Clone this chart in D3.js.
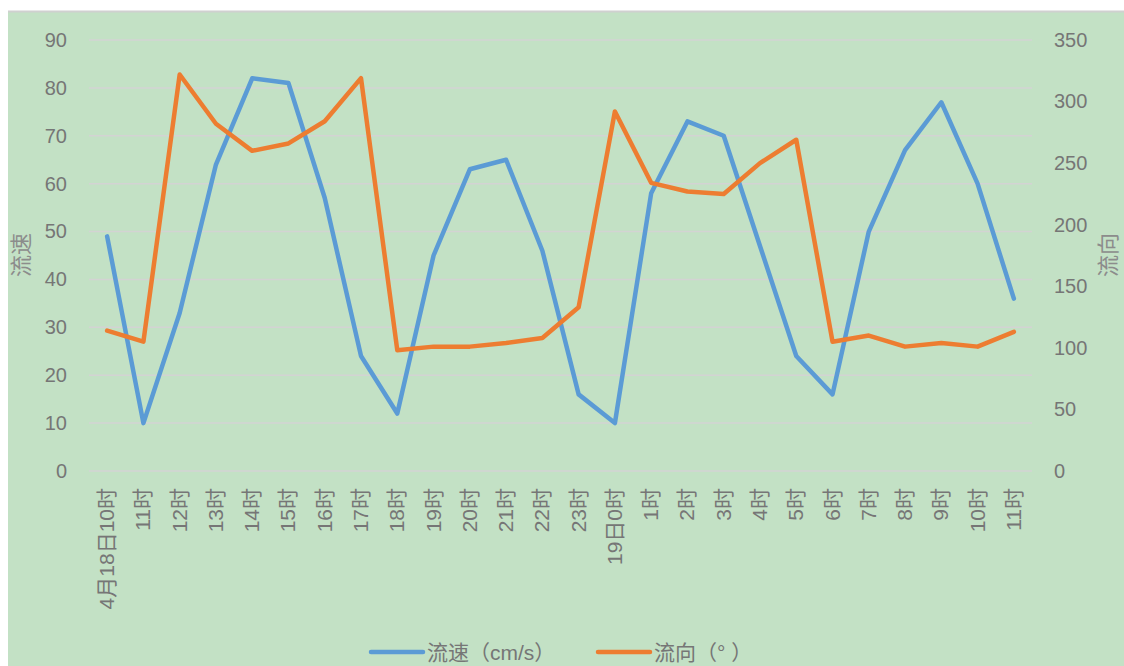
<!DOCTYPE html>
<html>
<head>
<meta charset="utf-8">
<script src="https://cdn.jsdelivr.net/npm/d3@7/dist/d3.min.js"></script>
<style>
  body { margin: 0; background: #fff; }
  text { font-family: "Liberation Sans", "Noto Sans CJK SC", sans-serif; fill: #767676; }
</style>
</head>
<body>
<svg id="chart" width="1124" height="666"></svg>
<script>
// categories (hours from 4/18 10:00 to 4/19 11:00)
var hours = ["4月18日10时", "11时", "12时", "13时", "14时", "15时", "16时", "17时", "18时",
    "19时", "20时", "21时", "22时", "23时", "19日0时", "1时", "2时", "3时", "4时", "5时",
    "6时", "7时", "8时", "9时", "10时", "11时"];

// 流速 cm/s (left axis)
var speed = [49, 10, 33, 64, 82, 81, 57, 24, 12, 45, 63, 65, 46, 16, 10, 58, 73, 70, 47, 24,
    16, 50, 67, 77, 60, 36];

// 流向 degrees (right axis)
var direction = [114, 105, 322, 282, 260, 266, 284, 319, 98, 101, 101, 104, 108, 133, 292, 234,
    227, 225, 250, 269, 105, 110, 101, 104, 101, 113];

var leftTicks = [0, 10, 20, 30, 40, 50, 60, 70, 80, 90];
var rightTicks = [0, 50, 100, 150, 200, 250, 300, 350];

var svg = d3.select("#chart"),
    margin = {top: 40, right: 92, bottom: 195, left: 89},
    width = +svg.attr("width") - margin.left - margin.right,
    height = +svg.attr("height") - margin.top - margin.bottom;

// background panel
svg.append("rect")
    .attr("x", 8).attr("y", 11)
    .attr("width", 1124 - 8).attr("height", 666 - 11)
    .attr("fill", "#c3e1c5");
svg.append("line")
    .attr("x1", 8).attr("x2", 1124).attr("y1", 11.5).attr("y2", 11.5)
    .attr("stroke", "#d0d0d0").attr("stroke-width", 2);

var x = d3.scaleBand().domain(hours.map(function (d, i) { return i; }))
    .range([0, width]);
var y = d3.scaleLinear().domain([0, 90]).range([height, 0]);
var y2 = d3.scaleLinear().domain([0, 350]).range([height, 0]);

var g = svg.append("g")
    .attr("transform", "translate(" + margin.left + "," + margin.top + ")");

// gridlines
g.append("g").selectAll("line")
    .data(leftTicks)
    .enter().append("line")
    .attr("x1", 0).attr("x2", width)
    .attr("y1", function (d) { return y(d); })
    .attr("y2", function (d) { return y(d); })
    .attr("stroke", "#d3d3d3").attr("stroke-width", 1.5);

// left axis
var yAxis = d3.axisLeft(y).tickValues(leftTicks).tickSize(0).tickPadding(22);
g.append("g").attr("class", "axis axis--y").call(yAxis)
    .call(function (s) { s.select(".domain").remove(); })
    .selectAll("text").style("font-size", "20px").style("fill", "#767676");

// right axis
var yAxis2 = d3.axisRight(y2).tickValues(rightTicks).tickSize(0).tickPadding(22);
g.append("g").attr("class", "axis axis--y2")
    .attr("transform", "translate(" + width + ",0)")
    .call(yAxis2)
    .call(function (s) { s.select(".domain").remove(); })
    .selectAll("text").style("font-size", "20px").style("fill", "#767676");

// x axis (rotated labels)
var xAxis = d3.axisBottom(x).tickSize(0).tickPadding(0)
    .tickFormat(function (i) { return hours[i]; });
g.append("g").attr("class", "axis axis--x")
    .attr("transform", "translate(0," + height + ")")
    .call(xAxis)
    .call(function (s) { s.select(".domain").remove(); })
    .selectAll("text")
    .style("font-size", "21px").style("fill", "#767676")
    .attr("text-anchor", "end")
    .attr("dy", null)
    .attr("y", 0)
    .attr("transform", "translate(7,17) rotate(-90)");

// axis titles
svg.append("text")
    .attr("transform", "translate(29,255) rotate(-90)")
    .attr("text-anchor", "middle")
    .style("font-size", "22px").style("fill", "#8c8c8c")
    .text("流速");
svg.append("text")
    .attr("transform", "translate(1116,255) rotate(-90)")
    .attr("text-anchor", "middle")
    .style("font-size", "22px").style("fill", "#8c8c8c")
    .text("流向");

// lines
var lineSpeed = d3.line()
    .x(function (d, i) { return x(i) + x.bandwidth() / 2; })
    .y(function (d) { return y(d); });
var lineDir = d3.line()
    .x(function (d, i) { return x(i) + x.bandwidth() / 2; })
    .y(function (d) { return y2(d); });

g.append("path").datum(speed)
    .attr("d", lineSpeed)
    .attr("fill", "none").attr("stroke", "#5b9bd5")
    .attr("stroke-width", 4.5).attr("stroke-linejoin", "round").attr("stroke-linecap", "round");
g.append("path").datum(direction)
    .attr("d", lineDir)
    .attr("fill", "none").attr("stroke", "#ed7d31")
    .attr("stroke-width", 4.5).attr("stroke-linejoin", "round").attr("stroke-linecap", "round");

// legend
var legend = [
    {name: "流速（cm/s）", color: "#5b9bd5", x: 371},
    {name: "流向（°  ）", color: "#ed7d31", x: 598}
];
var lg = svg.append("g").selectAll("g").data(legend).enter().append("g")
    .attr("transform", function (d) { return "translate(" + d.x + ",652)"; });
lg.append("line")
    .attr("x1", 0).attr("x2", 52).attr("y1", 0).attr("y2", 0)
    .attr("stroke", function (d) { return d.color; })
    .attr("stroke-width", 4.5).attr("stroke-linecap", "round");
lg.append("text")
    .attr("x", 56).attr("y", 8)
    .style("font-size", "21px").style("fill", "#767676")
    .text(function (d) { return d.name; });
</script>
</body>
</html>
